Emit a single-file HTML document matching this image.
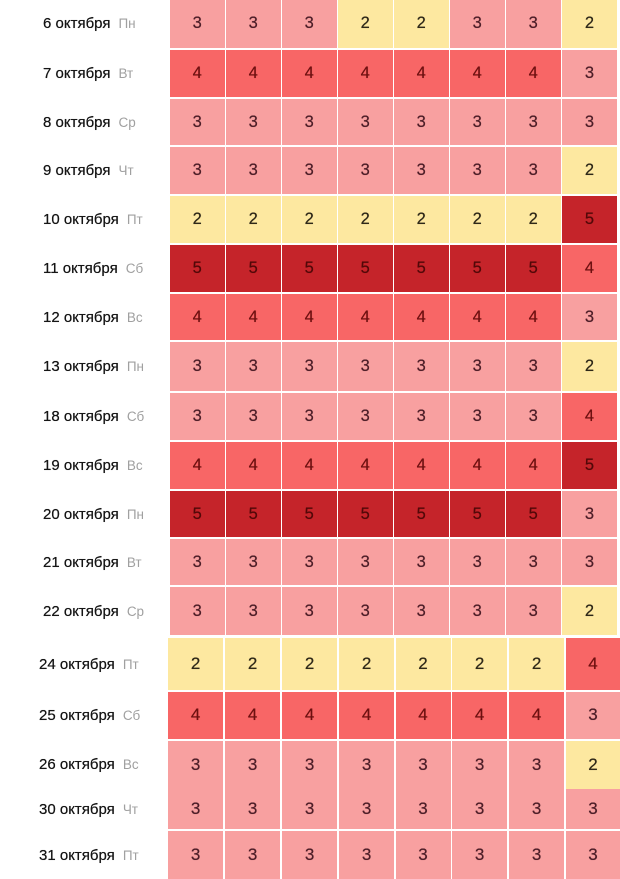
<!DOCTYPE html>
<html><head><meta charset="utf-8"><style>
html,body{margin:0;padding:0;background:#fff;}
body{width:620px;height:879px;position:relative;overflow:hidden;font-family:"Liberation Sans","Noto Sans CJK SC",sans-serif;}
.r{position:absolute;left:0;width:620px;}
.l{position:absolute;left:43px;top:0;height:100%;display:flex;align-items:center;font-size:15px;color:#151515;white-space:nowrap;text-shadow:0 0 0.4px #000;}
.b .l{left:39px;}
.l span{font-size:13.5px;color:#a0a0a0;margin-left:8px;text-shadow:none;}
.r i{font-style:normal;position:absolute;top:0;height:100%;display:flex;align-items:center;justify-content:center;font-size:16.5px;text-shadow:0 0 0.5px currentColor;}
.m i:nth-of-type(1){left:170px;width:54.5px}
.m i:nth-of-type(2){left:226px;width:54.5px}
.m i:nth-of-type(3){left:282px;width:54.5px}
.m i:nth-of-type(4){left:338px;width:54.5px}
.m i:nth-of-type(5){left:394px;width:54.5px}
.m i:nth-of-type(6){left:450px;width:54.5px}
.m i:nth-of-type(7){left:506px;width:54.5px}
.m i:nth-of-type(8){left:562px;width:55px}
.b i:nth-of-type(1){left:168px;width:55.3px}
.b i:nth-of-type(2){left:225px;width:55.3px}
.b i:nth-of-type(3){left:282px;width:55.3px}
.b i:nth-of-type(4){left:339px;width:55.3px}
.b i:nth-of-type(5){left:395.5px;width:55px}
.b i:nth-of-type(6){left:452px;width:55.3px}
.b i:nth-of-type(7){left:509px;width:55.3px}
.b i:nth-of-type(8){left:566px;width:54px}
.b i{font-size:17px;}
.k2{background:#fde8a0;color:#2e2818;}
.k3{background:#f8a0a0;color:#4e1e28;}
.k4{background:#f86666;color:#6e1010;}
.k5{background:#c5242a;color:#520808;}
</style></head><body>

<div class="r m" style="top:-1px;height:49px"><div class="l">6 октября<span>Пн</span></div><i class="k3">3</i><i class="k3">3</i><i class="k3">3</i><i class="k2">2</i><i class="k2">2</i><i class="k3">3</i><i class="k3">3</i><i class="k2">2</i></div>

<div class="r m" style="top:50px;height:47px"><div class="l">7 октября<span>Вт</span></div><i class="k4">4</i><i class="k4">4</i><i class="k4">4</i><i class="k4">4</i><i class="k4">4</i><i class="k4">4</i><i class="k4">4</i><i class="k3">3</i></div>

<div class="r m" style="top:99px;height:46px"><div class="l">8 октября<span>Ср</span></div><i class="k3">3</i><i class="k3">3</i><i class="k3">3</i><i class="k3">3</i><i class="k3">3</i><i class="k3">3</i><i class="k3">3</i><i class="k3">3</i></div>

<div class="r m" style="top:147px;height:47px"><div class="l">9 октября<span>Чт</span></div><i class="k3">3</i><i class="k3">3</i><i class="k3">3</i><i class="k3">3</i><i class="k3">3</i><i class="k3">3</i><i class="k3">3</i><i class="k2">2</i></div>

<div class="r m" style="top:196px;height:47px"><div class="l">10 октября<span>Пт</span></div><i class="k2">2</i><i class="k2">2</i><i class="k2">2</i><i class="k2">2</i><i class="k2">2</i><i class="k2">2</i><i class="k2">2</i><i class="k5">5</i></div>

<div class="r m" style="top:245px;height:47px"><div class="l">11 октября<span>Сб</span></div><i class="k5">5</i><i class="k5">5</i><i class="k5">5</i><i class="k5">5</i><i class="k5">5</i><i class="k5">5</i><i class="k5">5</i><i class="k4">4</i></div>

<div class="r m" style="top:294px;height:46px"><div class="l">12 октября<span>Вс</span></div><i class="k4">4</i><i class="k4">4</i><i class="k4">4</i><i class="k4">4</i><i class="k4">4</i><i class="k4">4</i><i class="k4">4</i><i class="k3">3</i></div>

<div class="r m" style="top:342px;height:49px"><div class="l">13 октября<span>Пн</span></div><i class="k3">3</i><i class="k3">3</i><i class="k3">3</i><i class="k3">3</i><i class="k3">3</i><i class="k3">3</i><i class="k3">3</i><i class="k2">2</i></div>

<div class="r m" style="top:393px;height:47px"><div class="l">18 октября<span>Сб</span></div><i class="k3">3</i><i class="k3">3</i><i class="k3">3</i><i class="k3">3</i><i class="k3">3</i><i class="k3">3</i><i class="k3">3</i><i class="k4">4</i></div>

<div class="r m" style="top:442px;height:47px"><div class="l">19 октября<span>Вс</span></div><i class="k4">4</i><i class="k4">4</i><i class="k4">4</i><i class="k4">4</i><i class="k4">4</i><i class="k4">4</i><i class="k4">4</i><i class="k5">5</i></div>

<div class="r m" style="top:491px;height:46px"><div class="l">20 октября<span>Пн</span></div><i class="k5">5</i><i class="k5">5</i><i class="k5">5</i><i class="k5">5</i><i class="k5">5</i><i class="k5">5</i><i class="k5">5</i><i class="k3">3</i></div>

<div class="r m" style="top:539px;height:46px"><div class="l">21 октября<span>Вт</span></div><i class="k3">3</i><i class="k3">3</i><i class="k3">3</i><i class="k3">3</i><i class="k3">3</i><i class="k3">3</i><i class="k3">3</i><i class="k3">3</i></div>

<div class="r m" style="top:587px;height:48px"><div class="l">22 октября<span>Ср</span></div><i class="k3">3</i><i class="k3">3</i><i class="k3">3</i><i class="k3">3</i><i class="k3">3</i><i class="k3">3</i><i class="k3">3</i><i class="k2">2</i></div>

<div class="r b" style="top:638px;height:52px"><div class="l">24 октября<span>Пт</span></div><i class="k2">2</i><i class="k2">2</i><i class="k2">2</i><i class="k2">2</i><i class="k2">2</i><i class="k2">2</i><i class="k2">2</i><i class="k4">4</i></div>

<div class="r b" style="top:692px;height:46.5px"><div class="l">25 октября<span>Сб</span></div><i class="k4">4</i><i class="k4">4</i><i class="k4">4</i><i class="k4">4</i><i class="k4">4</i><i class="k4">4</i><i class="k4">4</i><i class="k3">3</i></div>

<div class="r b" style="top:741px;height:47.5px"><div class="l">26 октября<span>Вс</span></div><i class="k3">3</i><i class="k3">3</i><i class="k3">3</i><i class="k3">3</i><i class="k3">3</i><i class="k3">3</i><i class="k3">3</i><i class="k2">2</i></div>

<div class="r b" style="top:789px;height:40px"><div class="l">30 октября<span>Чт</span></div><i class="k3">3</i><i class="k3">3</i><i class="k3">3</i><i class="k3">3</i><i class="k3">3</i><i class="k3">3</i><i class="k3">3</i><i class="k3">3</i></div>

<div class="r b" style="top:831px;height:48px"><div class="l">31 октября<span>Пт</span></div><i class="k3">3</i><i class="k3">3</i><i class="k3">3</i><i class="k3">3</i><i class="k3">3</i><i class="k3">3</i><i class="k3">3</i><i class="k3">3</i></div>

</body></html>
